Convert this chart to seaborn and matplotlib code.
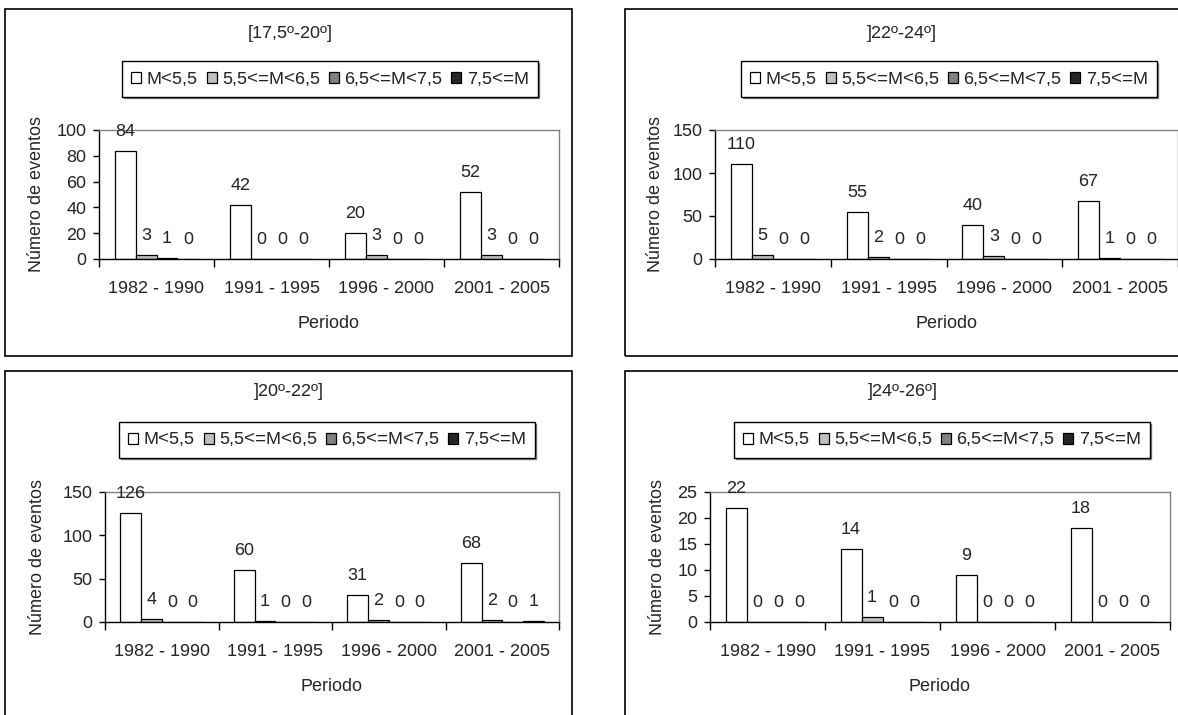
import matplotlib
matplotlib.use("Agg")
import matplotlib.pyplot as plt
from matplotlib.patches import Rectangle, Patch
import seaborn as sns
import pandas as pd

# ---- data -------------------------------------------------------------
periods = ["1982 - 1990", "1991 - 1995", "1996 - 2000", "2001 - 2005"]
classes = ["M<5,5", "5,5<=M<6,5", "6,5<=M<7,5", "7,5<=M"]

# [17,5º-20º]
a_m55 = [84, 42, 20, 52]
a_m65 = [3, 0, 3, 3]
a_m75 = [1, 0, 0, 0]
a_m75p = [0, 0, 0, 0]

# ]22º-24º]
b_m55 = [110, 55, 40, 67]
b_m65 = [5, 2, 3, 1]
b_m75 = [0, 0, 0, 0]
b_m75p = [0, 0, 0, 0]

# ]20º-22º]
c_m55 = [126, 60, 31, 68]
c_m65 = [4, 1, 2, 2]
c_m75 = [0, 0, 0, 0]
c_m75p = [0, 0, 0, 1]

# ]24º-26º]
d_m55 = [22, 14, 9, 18]
d_m65 = [0, 1, 0, 0]
d_m75 = [0, 0, 0, 0]
d_m75p = [0, 0, 0, 0]

titles = ["[17,5º-20º]", "]22º-24º]", "]20º-22º]", "]24º-26º]"]
y_max = [100, 150, 150, 25]
y_step = [20, 50, 50, 5]

# ---- style ------------------------------------------------------------
sns.set_style("white")
plt.rcParams["font.family"] = ["Liberation Sans", "DejaVu Sans"]
plt.rcParams["text.hinting"] = "default"
plt.rcParams["text.hinting_factor"] = 1
FS = 13
colors = ["#FFFFFF", "#C0C0C0", "#808080", "#262626"]

W, H = 1178, 715
fig = plt.figure(figsize=(W / 100, H / 100), dpi=100)


def fx(x):
    return x / W


def fy(y):
    return 1 - y / H


def long_frame(series):
    rows = []
    for cls, vals in zip(classes, series):
        for per, v in zip(periods, vals):
            rows.append({"Periodo": per, "Clase": cls, "Eventos": v})
    return pd.DataFrame(rows)


panels = [
    dict(data=[a_m55, a_m65, a_m75, a_m75p], box=(5, 9, 572, 356),
         ax=(99, 130, 559, 259), title=(290, 33), legend=(330, 79), ylab=37),
    dict(data=[b_m55, b_m65, b_m75, b_m75p], box=(625, 9, 1195, 356),
         ax=(715, 130, 1178, 259), title=(902, 33), legend=(949, 79), ylab=656),
    dict(data=[c_m55, c_m65, c_m75, c_m75p], box=(5, 371, 572, 725),
         ax=(105, 492, 559, 622), title=(289, 392), legend=(327, 440), ylab=38),
    dict(data=[d_m55, d_m65, d_m75, d_m75p], box=(625, 371, 1195, 725),
         ax=(710, 492, 1170, 622), title=(903, 392), legend=(942, 440), ylab=657),
]

for i, p in enumerate(panels):
    # chart border
    x0, y0, x1, y1 = p["box"]
    fig.patches.append(Rectangle((fx(x0), fy(y1)), (x1 - x0) / W, (y1 - y0) / H,
                                 transform=fig.transFigure, fill=False,
                                 edgecolor="black", linewidth=1.2, zorder=0))

    l, t, r, b = p["ax"]
    ax = fig.add_axes([fx(l), fy(b), (r - l) / W, (b - t) / H])
    df = long_frame(p["data"])
    sns.barplot(data=df, x="Periodo", y="Eventos", hue="Clase", order=periods,
                hue_order=classes, palette=colors, saturation=1, width=4 / 5.5,
                edgecolor="black", linewidth=0.9, errorbar=None, ax=ax,
                legend=False)

    # value labels above each bar
    for container in ax.containers:
        for bar in container:
            h = bar.get_height()
            ax.annotate(f"{h:g}", (bar.get_x() + bar.get_width() / 2, h),
                        xytext=(0, 14), textcoords="offset points",
                        ha="center", va="center", fontsize=FS,
                        annotation_clip=False)

    ax.set_xlim(-0.5, 3.5)
    ax.set_ylim(0, y_max[i])
    ax.set_yticks(range(0, y_max[i] + 1, y_step[i]))
    ax.set_xticks([-0.5, 0.5, 1.5, 2.5, 3.5], minor=True)
    ax.tick_params(axis="x", which="major", length=0, labelsize=FS, pad=15)
    ax.tick_params(axis="x", which="minor", length=6, width=1, color="black",
                   direction="out", bottom=True)
    ax.tick_params(axis="y", length=4, width=1, color="black", direction="out",
                   labelsize=FS, pad=5, left=True)
    for s in ["left", "bottom"]:
        ax.spines[s].set_color("black")
        ax.spines[s].set_linewidth(1)
    for s in ["top", "right"]:
        ax.spines[s].set_color("#808080")
        ax.spines[s].set_linewidth(1)
    ax.set_ylabel("")
    ax.set_xlabel("Periodo", fontsize=FS, labelpad=13)

    fig.text(fx(p["ylab"]), fy((t + b) / 2), "Número de eventos", rotation=90,
             ha="center", va="center", fontsize=FS)
    fig.text(fx(p["title"][0]), fy(p["title"][1]), titles[i], ha="center",
             va="center", fontsize=FS)

    handles = [Patch(facecolor=c, edgecolor="black", linewidth=0.9) for c in colors]
    ax.legend(handles, classes, ncol=4, loc="center",
              bbox_to_anchor=(fx(p["legend"][0]), fy(p["legend"][1])),
              bbox_transform=fig.transFigure, frameon=True, fancybox=False,
              edgecolor="black", framealpha=1, fontsize=FS,
              handlelength=0.55, handleheight=0.55, handletextpad=0.3,
              columnspacing=0.5, borderpad=0.5,
              shadow={"ox": 1, "oy": -1, "color": "#808080", "alpha": 1})
    ax.get_legend().get_frame().set_linewidth(1)

fig.savefig("out.png", dpi=100, facecolor="white")
